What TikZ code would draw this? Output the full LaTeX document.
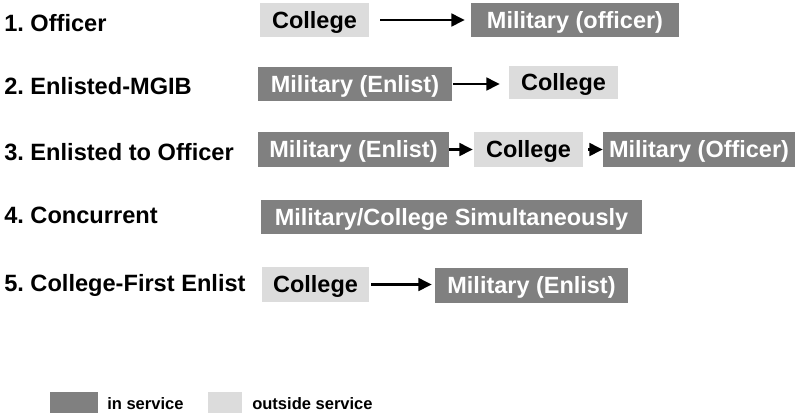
\documentclass[tikz,border=0pt]{standalone}
\usepackage{fontspec}
\setmainfont{Liberation Sans}
\usetikzlibrary{arrows.meta}
\definecolor{darkbox}{RGB}{128,128,128}
\definecolor{lightbox}{RGB}{220,220,220}
\frenchspacing
\tikzset{
  boxbase/.style={inner sep=0pt, text height=12.6pt, text depth=0pt,
    font=\fontsize{17.6}{20}\selectfont\bfseries},
  darkbx/.style={boxbase, fill=darkbox, text=white},
  lightbx/.style={boxbase, fill=lightbox, text=black},
  rowlabel/.style={anchor=base west, inner sep=0pt,
    font=\fontsize{17.7}{20}\selectfont\bfseries},
  legendtxt/.style={anchor=base west, inner sep=0pt,
    font=\fontsize{12.4}{14}\selectfont\bfseries},
  conn/.style={line width=2pt, -{Triangle[length=10pt,width=9.5pt]}}
}
\begin{document}
\begin{tikzpicture}[x=0.75pt,y=-0.75pt]
\useasboundingbox (0,0) rectangle (799,415);
% row labels
\node[rowlabel] (l1) at (4,31) {1. Officer};
\node[rowlabel] (l2) at (4,94) {2. Enlisted-MGIB};
\node[rowlabel] (l3) at (4,160.5) {3. Enlisted to Officer};
\node[rowlabel] (l4) at (4,223) {4. Concurrent};
\node[rowlabel] (l5) at (4,291.5) {5. College-First Enlist};
% row 1
\node[lightbx, minimum width=81.75pt, minimum height=25.5pt] (c1) at (314.5,20) {College};
\node[darkbx, minimum width=156pt, minimum height=25.5pt] (m1) at (575,20) {Military (officer)};
\draw[conn, shorten <=8.25pt, shorten >=4.5pt] (c1.east) -- (c1.east -| m1.west);
% row 2
\node[darkbx, minimum width=145.5pt, minimum height=25.5pt] (m2) at (355,84) {Military (Enlist)};
\node[lightbx, minimum width=81.75pt, minimum height=24.75pt] (c2) at (563.5,82.5) {College};
\draw[conn, shorten <=0.75pt, shorten >=6.75pt] (m2.east) -- (m2.east -| c2.west);
% row 3
\node[darkbx, minimum width=143.25pt, minimum height=26.25pt] (m3a) at (353.5,149.5) {Military (Enlist)};
\node[lightbx, minimum width=81.75pt, minimum height=26.25pt] (c3) at (528.5,149.5) {College};
\node[darkbx, minimum width=144pt, minimum height=26.25pt] (m3b) at (699,149.5) {Military (Officer)};
\draw[conn, shorten >=0.75pt] (m3a.east) -- (c3.west);
\draw[conn, shorten <=3.75pt] (c3.east) -- (m3b.west);
% row 4
\node[darkbx, minimum width=285.75pt, minimum height=25.5pt] (m4) at (451.5,217) {Military/College Simultaneously};
% row 5
\node[lightbx, minimum width=80.25pt, minimum height=26.25pt] (c5) at (315.5,284.5) {College};
\node[darkbx, minimum width=144.75pt, minimum height=26.25pt] (m5) at (531.5,285.5) {Military (Enlist)};
\draw[conn, shorten <=1.5pt, shorten >=2.25pt] (c5.east) -- (c5.east -| m5.west);
% legend
\node[fill=darkbox, inner sep=0pt, minimum width=36pt, minimum height=15.75pt] (ld) at (74,402.5) {};
\node[legendtxt] (lt1) at (107,409) {in service};
\node[fill=lightbox, inner sep=0pt, minimum width=25.5pt, minimum height=15.75pt] (ll) at (225,402.5) {};
\node[legendtxt] (lt2) at (252,409) {outside service};
\end{tikzpicture}
\end{document}
